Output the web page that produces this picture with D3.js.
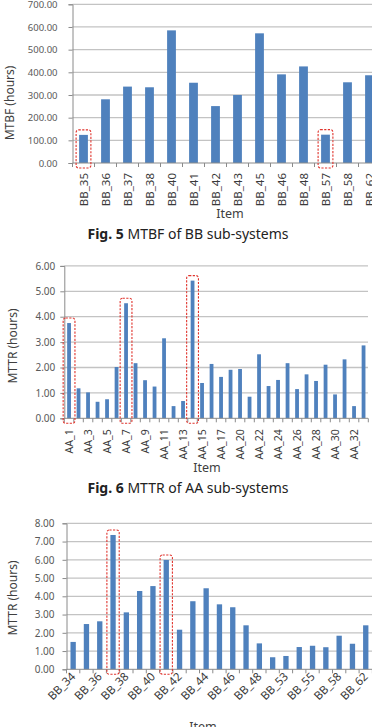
<!DOCTYPE html>
<html>
<head>
<meta charset="utf-8">
<script src="https://cdn.jsdelivr.net/npm/d3@7"></script>
<style>
  body { margin: 0; background: #fff; }
  svg { display: block; font-family: "Noto Sans", "Open Sans", sans-serif; }
  .tick text { fill: #595959; }
</style>
</head>
<body>
<div class="figs"></div>
<script>
// Fig. 5 - MTBF of BB sub-systems
const bbMtbfItems = ["BB_35", "BB_36", "BB_37", "BB_38", "BB_40", "BB_41", "BB_42", "BB_43", "BB_45", "BB_46", "BB_48", "BB_57", "BB_58", "BB_62"];
const bbMtbfValues = [124, 281, 337, 334, 585, 354, 251, 300, 572, 391, 426, 125, 356, 387];
const bbMtbfTicks = [0, 100, 200, 300, 400, 500, 600, 700];
const bbMtbfMarked = ["BB_35", "BB_57"];

// Fig. 6 - MTTR of AA sub-systems
const aaMttrItems = ["AA_1", "AA_2", "AA_3", "AA_4", "AA_5", "AA_6", "AA_7", "AA_8", "AA_9", "AA_10", "AA_11", "AA_12", "AA_13", "AA_14", "AA_15", "AA_16", "AA_17", "AA_18", "AA_20", "AA_21", "AA_22", "AA_23", "AA_24", "AA_25", "AA_26", "AA_27", "AA_28", "AA_29", "AA_30", "AA_31", "AA_32", "AA_33"];
const aaMttrValues = [3.75, 1.18, 1.02, 0.65, 0.75, 2.02, 4.53, 2.17, 1.50, 1.25, 3.15, 0.48, 0.68, 5.42, 1.39, 2.14, 1.63, 1.91, 1.94, 0.85, 2.52, 1.27, 1.51, 2.17, 1.15, 1.73, 1.47, 2.11, 0.94, 2.32, 0.48, 2.87];
const aaMttrTicks = [0, 1, 2, 3, 4, 5, 6];
const aaMttrMarked = ["AA_1", "AA_7", "AA_14"];

// (third figure) - MTTR of BB sub-systems
const bbMttrItems = ["BB_34", "BB_35", "BB_36", "BB_37", "BB_38", "BB_39", "BB_40", "BB_41", "BB_42", "BB_43", "BB_44", "BB_45", "BB_46", "BB_47", "BB_48", "BB_52", "BB_53", "BB_54", "BB_55", "BB_57", "BB_58", "BB_61", "BB_62"];
const bbMttrValues = [1.50, 2.48, 2.63, 7.36, 3.12, 4.29, 4.56, 5.99, 2.17, 3.73, 4.44, 3.56, 3.40, 2.41, 1.42, 0.66, 0.73, 1.22, 1.29, 1.21, 1.84, 1.40, 2.41];
const bbMttrTicks = [0, 1, 2, 3, 4, 5, 6, 7, 8];
const bbMttrMarked = ["BB_37", "BB_41"];

const svg = d3.select('.figs').append('svg')
    .attr('width', 372)
    .attr('height', 727);

svg.append('rect').attr('width', 372).attr('height', 727).attr('fill', '#fff');

const barColor = '#4f81bd';
const gridColor = '#c3c3c3';
const axisColor = '#8a8a8a';
const markColor = '#e0332c';

function drawChart(c) {
    const g = svg.append('g');
    const n = c.items.length;

    const x = d3.scaleBand()
        .domain(c.items)
        .range([c.left, c.left + c.step * n]);
    const y = d3.scaleLinear()
        .domain([0, d3.max(c.ticks)])
        .range([c.bottom, c.top]);

    // gridlines
    g.selectAll('.grid')
        .data(c.ticks.slice(1))
        .enter().append('line')
        .attr('x1', c.left)
        .attr('x2', c.gridRight)
        .attr('y1', d => y(d))
        .attr('y2', d => y(d))
        .attr('stroke', gridColor)
        .attr('stroke-width', 1.3);

    // y axis
    const yAxis = g.append('g')
        .attr('transform', 'translate(' + c.left + ',0)')
        .call(d3.axisLeft(y).tickValues(c.ticks).tickFormat(d3.format('.2f')).tickSize(4).tickPadding(c.yPad));
    yAxis.select('.domain').attr('stroke', axisColor);
    yAxis.selectAll('.tick line').attr('stroke', axisColor);
    yAxis.selectAll('.tick text').attr('font-size', c.yFont).attr('font-family', '"Noto Sans", sans-serif');

    // bars
    const bw = x.bandwidth() * 0.4;
    g.selectAll('.bar')
        .data(c.values)
        .enter().append('rect')
        .attr('x', (d, i) => x(c.items[i]) + (x.bandwidth() - bw) / 2)
        .attr('y', d => y(d))
        .attr('width', bw)
        .attr('height', d => y(0) - y(d))
        .attr('fill', barColor);

    // x axis line + tick marks at band edges
    g.append('line')
        .attr('x1', c.left).attr('x2', c.gridRight)
        .attr('y1', y(0)).attr('y2', y(0))
        .attr('stroke', axisColor);
    g.selectAll('.xtick')
        .data(d3.range(n + 1))
        .enter().append('line')
        .attr('x1', i => c.left + i * x.step())
        .attr('x2', i => c.left + i * x.step())
        .attr('y1', y(0))
        .attr('y2', y(0) + 4)
        .attr('stroke', axisColor);

    // category labels
    const shown = c.items.filter((d, i) => i % c.every === 0);
    g.selectAll('.xlab')
        .data(shown)
        .enter().append('text')
        .attr('transform', d => 'translate(' + (x(d) + x.bandwidth() / 2 + c.labDx) + ',' + (y(0) + c.labDy) + ') rotate(' + c.labRot + ')')
        .attr('text-anchor', 'end')
        .attr('font-size', c.xFont)
        .attr('fill', '#3a3a3a')
        .text(d => d);

    // highlight boxes
    g.selectAll('.mark')
        .data(c.marked)
        .enter().append('rect')
        .attr('x', d => x(d) + (x.bandwidth() - bw) / 2 - c.markPad)
        .attr('y', d => y(c.values[c.items.indexOf(d)]) - 5)
        .attr('width', bw + 2 * c.markPad)
        .attr('height', d => y(0) - y(c.values[c.items.indexOf(d)]) + 10)
        .attr('rx', 2.5)
        .attr('fill', 'none')
        .attr('stroke', markColor)
        .attr('stroke-width', 1.1)
        .attr('stroke-dasharray', '2.2,1.4');

    // axis titles
    g.append('text')
        .attr('transform', 'translate(' + c.yTitleX + ',' + c.yTitleY + ') rotate(-90)')
        .attr('text-anchor', 'middle')
        .attr('font-size', 12)
        .attr('fill', '#404040')
        .text(c.yTitle);
    g.append('text')
        .attr('x', c.itemX)
        .attr('y', c.itemY)
        .attr('text-anchor', 'middle')
        .attr('font-size', 12.5)
        .attr('fill', '#404040')
        .text('Item');

    if (c.caption) {
        const cap = g.append('text')
            .attr('x', 188)
            .attr('y', c.captionY)
            .attr('text-anchor', 'middle')
            .attr('font-size', 14)
            .attr('fill', '#222');
        cap.append('tspan').attr('font-weight', 'bold').text(c.caption[0]);
        cap.append('tspan').text(' ' + c.caption[1]);
    }
}

drawChart({
    items: bbMtbfItems, values: bbMtbfValues, ticks: bbMtbfTicks, marked: bbMtbfMarked,
    left: 72.5, step: 22, top: 4.3, bottom: 163, gridRight: 380,
    yPad: 11, yFont: 9.5, xFont: 11.5, every: 1, labRot: -90, labDx: 4, labDy: 10,
    markPad: 3, yTitle: 'MTBF (hours)', yTitleX: 14, yTitleY: 103, itemX: 230, itemY: 218,
    caption: ['Fig. 5', 'MTBF of BB sub-systems'], captionY: 239
});

drawChart({
    items: aaMttrItems, values: aaMttrValues, ticks: aaMttrTicks, marked: aaMttrMarked,
    left: 64.3, step: 9.5, top: 265.9, bottom: 418.3, gridRight: 368,
    yPad: 5, yFont: 10, xFont: 10.5, every: 2, labRot: -90, labDx: 3.5, labDy: 11,
    markPad: 4, yTitle: 'MTTR (hours)', yTitleX: 17, yTitleY: 346, itemX: 207, itemY: 472,
    caption: ['Fig. 6', 'MTTR of AA sub-systems'], captionY: 493
});

drawChart({
    items: bbMttrItems, values: bbMttrValues, ticks: bbMttrTicks, marked: bbMttrMarked,
    left: 66.5, step: 13.3, top: 523.3, bottom: 669.3, gridRight: 380,
    yPad: 8, yFont: 10, xFont: 11.5, every: 2, labRot: -45, labDx: 3, labDy: 8,
    markPad: 3.5, yTitle: 'MTTR (hours)', yTitleX: 17, yTitleY: 598, itemX: 203, itemY: 731,
    caption: null
});
</script>
</body>
</html>
